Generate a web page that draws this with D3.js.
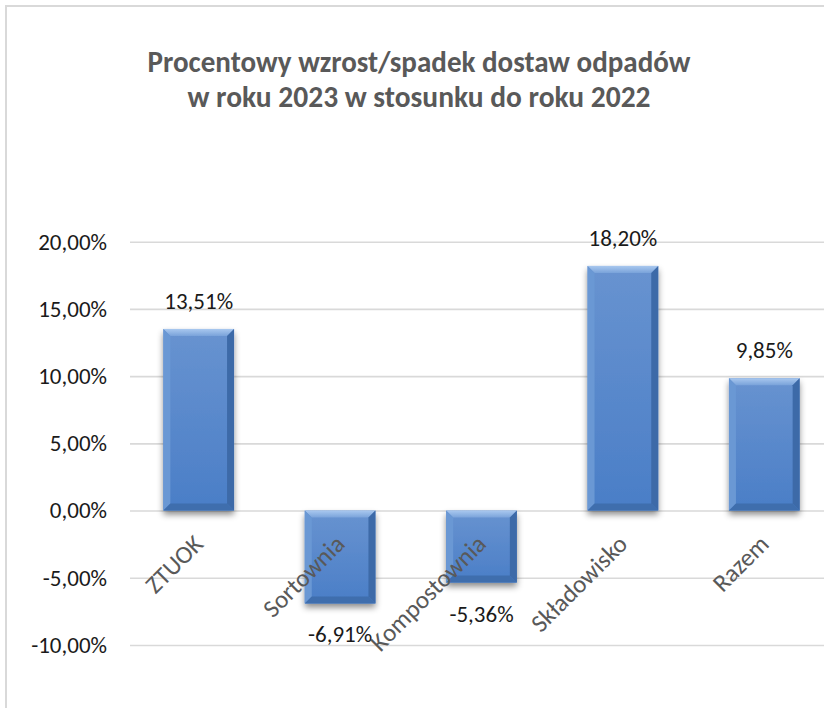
<!DOCTYPE html>
<html>
<head>
<meta charset="utf-8">
<script src="https://cdn.jsdelivr.net/npm/d3@7"></script>
<style>
  body { margin: 0; background: #fff; }
  svg { display: block; font-family: Carlito, Lato, "Liberation Sans", sans-serif; }
</style>
</head>
<body>
<script>
// data
var categories = ["ZTUOK", "Sortownia", "Kompostownia", "Składowisko", "Razem"];
var values = [13.51, -6.91, -5.36, 18.20, 9.85];
var tickValues = [-10, -5, 0, 5, 10, 15, 20];
var titleLines = ["Procentowy wzrost/spadek dostaw odpadów", "w roku 2023 w stosunku do roku 2022"];

var width = 824, height = 708;
var bevel = 7;

var pl = d3.formatLocale({decimal: ",", thousands: " ", grouping: [3], currency: ["", " zł"], minus: "-"});
var fmt = function(v) { return pl.format(".2f")(v) + "%"; };

var svg = d3.select("body").append("svg")
    .attr("width", width)
    .attr("height", height);

// scales
var xScale = d3.scaleBand()
    .domain(categories)
    .range([128, 835])
    .paddingInner(0.5)
    .paddingOuter(0.25);

var yScale = d3.scaleLinear()
    .domain([-10, 20])
    .range([645, 241.7]);

// gradients + shadow
var defs = svg.append("defs");
var g1 = defs.append("linearGradient").attr("id", "barFill")
    .attr("x1", 0).attr("y1", 0).attr("x2", 0).attr("y2", 1);
g1.append("stop").attr("offset", "0%").attr("stop-color", "#6893d0");
g1.append("stop").attr("offset", "100%").attr("stop-color", "#4a7ec7");

var g2 = defs.append("linearGradient").attr("id", "topBevel")
    .attr("x1", 0).attr("y1", 0).attr("x2", 0).attr("y2", 1);
g2.append("stop").attr("offset", "0%").attr("stop-color", "#a9c8ef");
g2.append("stop").attr("offset", "100%").attr("stop-color", "#7aa3da");

var shadow = defs.append("filter").attr("id", "shadow")
    .attr("x", "-20%").attr("y", "-20%").attr("width", "140%").attr("height", "140%");
shadow.append("feDropShadow")
    .attr("dx", 0).attr("dy", 4)
    .attr("stdDeviation", 3)
    .attr("flood-color", "#000")
    .attr("flood-opacity", 0.45);

// chart frame (only top and left visible)
svg.append("rect")
    .attr("x", 6).attr("y", 6)
    .attr("width", width + 50).attr("height", height + 50)
    .attr("fill", "none")
    .attr("stroke", "#d9d9d9")
    .attr("stroke-width", 2);

// title
svg.append("g").selectAll("text")
  .data(titleLines)
  .enter().append("text")
    .attr("x", 419)
    .attr("y", function(d, i) { return 72 + i * 35; })
    .attr("text-anchor", "middle")
    .attr("textLength", function(d, i) { return i === 0 ? 543 : 463; })
    .attr("lengthAdjust", "spacingAndGlyphs")
    .attr("font-size", 30)
    .attr("font-weight", "bold")
    .attr("fill", "#595959")
    .text(function(d) { return d; });

// y axis with gridlines
var yAxis = d3.axisLeft(yScale)
    .tickValues(tickValues)
    .tickSize(-(width - 130))
    .tickPadding(23)
    .tickFormat(fmt);

var ya = svg.append("g")
    .attr("class", "y axis")
    .attr("transform", "translate(130,0)")
    .call(yAxis)
    .attr("font-family", null)
    .attr("font-size", null);
ya.select(".domain").remove();
ya.selectAll("line")
    .attr("stroke", "#d9d9d9")
    .attr("stroke-width", 1.6);
ya.selectAll("text")
    .attr("font-size", 23)
    .attr("fill", "#1a1a1a");

// bars
var bars = svg.selectAll(".bar")
  .data(values)
  .enter().append("g")
    .attr("class", "bar");

function geom(d, i) {
  var x0 = xScale(categories[i]);
  var x1 = x0 + xScale.bandwidth();
  var y0 = yScale(Math.max(0, d));
  var y1 = yScale(Math.min(0, d));
  return {x0: x0, x1: x1, y0: y0, y1: y1};
}

bars.append("rect")
    .attr("x", function(d, i) { return geom(d, i).x0; })
    .attr("y", function(d, i) { return geom(d, i).y0; })
    .attr("width", xScale.bandwidth())
    .attr("height", function(d, i) { var g = geom(d, i); return g.y1 - g.y0; })
    .attr("fill", "url(#barFill)")
    .attr("filter", "url(#shadow)");

function poly(fn, fill) {
  bars.append("polygon")
    .attr("points", function(d, i) {
      return fn(geom(d, i)).map(function(p) { return p.join(","); }).join(" ");
    })
    .attr("fill", fill);
}
// top bevel
poly(function(g) { return [[g.x0, g.y0], [g.x1, g.y0], [g.x1 - bevel, g.y0 + bevel], [g.x0 + bevel, g.y0 + bevel]]; }, "url(#topBevel)");
// left bevel
poly(function(g) { return [[g.x0, g.y0], [g.x0 + bevel, g.y0 + bevel], [g.x0 + bevel, g.y1 - bevel], [g.x0, g.y1]]; }, "#6a98d4");
// right bevel
poly(function(g) { return [[g.x1, g.y0], [g.x1, g.y1], [g.x1 - bevel, g.y1 - bevel], [g.x1 - bevel, g.y0 + bevel]]; }, "#3d6aa8");
// bottom bevel
poly(function(g) { return [[g.x0, g.y1], [g.x0 + bevel, g.y1 - bevel], [g.x1 - bevel, g.y1 - bevel], [g.x1, g.y1]]; }, "#3f6ead");

// data labels
svg.selectAll(".value")
  .data(values)
  .enter().append("text")
    .attr("class", "value")
    .attr("x", function(d, i) { return xScale(categories[i]) + xScale.bandwidth() / 2; })
    .attr("y", function(d) { return d >= 0 ? yScale(d) - 20 : yScale(d) + 39; })
    .attr("text-anchor", "middle")
    .attr("font-size", 23)
    .attr("fill", "#1a1a1a")
    .text(function(d) { return fmt(d); });

// category labels
svg.selectAll(".cat")
  .data(categories)
  .enter().append("text")
    .attr("class", "cat")
    .attr("transform", function(d) {
      var cx = xScale(d) + xScale.bandwidth() / 2;
      return "translate(" + (cx + 6) + "," + (yScale(0) + 35) + ") rotate(-45)";
    })
    .attr("text-anchor", "end")
    .attr("font-size", 25)
    .attr("fill", "#595959")
    .text(function(d) { return d; });
</script>
</body>
</html>
